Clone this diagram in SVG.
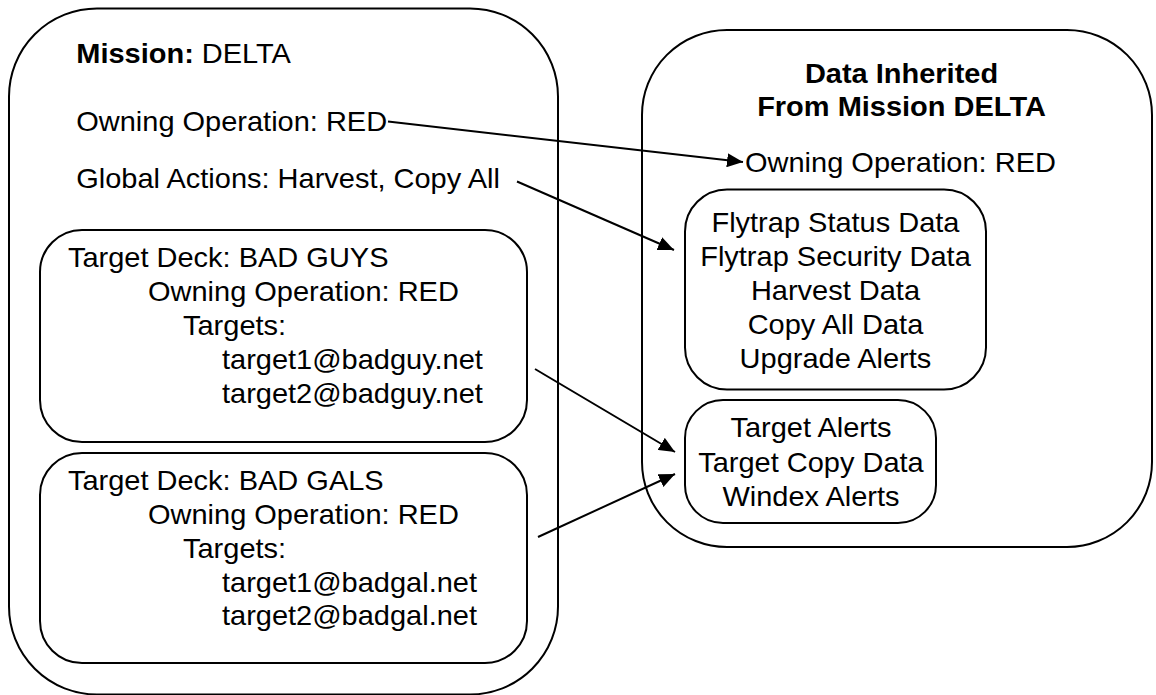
<svg xmlns="http://www.w3.org/2000/svg" width="1156" height="695" viewBox="0 0 1156 695">
  <style>
    .box { fill: none; stroke: #000; stroke-width: 2; }
    .lbl { font-family: "Liberation Sans", Arial, sans-serif; font-size: 27px; fill: #000; transform: scale(1.074, 1); }
    .b { font-weight: bold; }
    .mid { text-anchor: middle; }
    .link { fill: none; stroke: #000; stroke-width: 2; }
  </style>
  <defs>
    <marker id="arrow" markerUnits="userSpaceOnUse" markerWidth="17" markerHeight="14" refX="16" refY="7" orient="auto">
      <path d="M0,0 L16,7 L0,14 Z" fill="#000"/>
    </marker>
  </defs>
  <rect x="0" y="0" width="1156" height="695" fill="#fff"/>

  <!-- Mission DELTA container -->
  <g id="mission">
    <rect class="box" x="9" y="8.5" width="549" height="686" rx="88" ry="88"/>
    <text class="lbl" x="71" y="63"><tspan class="b">Mission:</tspan> DELTA</text>
    <text class="lbl" x="71" y="131">Owning Operation: RED</text>
    <text class="lbl" x="71" y="188">Global Actions: Harvest, Copy All</text>
  </g>

  <!-- Target deck: BAD GUYS -->
  <g id="deck-bad-guys">
    <rect class="box" x="40" y="230" width="487" height="212" rx="42" ry="42"/>
    <text class="lbl" x="63.3" y="267">Target Deck: BAD GUYS</text>
    <text class="lbl" x="137.8" y="301">Owning Operation: RED</text>
    <text class="lbl" x="170.4" y="335">Targets:</text>
    <text class="lbl" x="206.7" y="369">target1@badguy.net</text>
    <text class="lbl" x="206.7" y="403">target2@badguy.net</text>
  </g>

  <!-- Target deck: BAD GALS -->
  <g id="deck-bad-gals">
    <rect class="box" x="40" y="453" width="487" height="210" rx="42" ry="42"/>
    <text class="lbl" x="63.3" y="490">Target Deck: BAD GALS</text>
    <text class="lbl" x="137.8" y="524">Owning Operation: RED</text>
    <text class="lbl" x="170.4" y="558">Targets:</text>
    <text class="lbl" x="206.7" y="592">target1@badgal.net</text>
    <text class="lbl" x="206.7" y="625">target2@badgal.net</text>
  </g>

  <!-- Inherited data container -->
  <g id="inherited">
    <rect class="box" x="642" y="30" width="510" height="517" rx="85" ry="85"/>
    <text class="lbl b mid" x="839.4" y="83">Data Inherited</text>
    <text class="lbl b mid" x="839.4" y="116">From Mission DELTA</text>
    <text class="lbl" x="693.7" y="172">Owning Operation: RED</text>
  </g>

  <!-- Mission-level data -->
  <g id="mission-data">
    <rect class="box" x="685" y="189.5" width="301" height="200" rx="42" ry="42"/>
    <text class="lbl mid" x="777.9" y="232">Flytrap Status Data</text>
    <text class="lbl mid" x="777.9" y="266">Flytrap Security Data</text>
    <text class="lbl mid" x="777.9" y="300">Harvest Data</text>
    <text class="lbl mid" x="777.9" y="334">Copy All Data</text>
    <text class="lbl mid" x="777.9" y="368">Upgrade Alerts</text>
  </g>

  <!-- Target-level data -->
  <g id="target-data">
    <rect class="box" x="685" y="400" width="251" height="123" rx="38" ry="38"/>
    <text class="lbl mid" x="755.1" y="437">Target Alerts</text>
    <text class="lbl mid" x="755.1" y="472">Target Copy Data</text>
    <text class="lbl mid" x="755.1" y="506">Windex Alerts</text>
  </g>

  <!-- Connectors -->
  <g id="connectors">
    <line class="link" x1="388" y1="121.5" x2="743" y2="162" marker-end="url(#arrow)"/>
    <line class="link" x1="517" y1="181.5" x2="674" y2="250" marker-end="url(#arrow)"/>
    <line class="link" x1="535" y1="369" x2="675" y2="452" marker-end="url(#arrow)"/>
    <line class="link" x1="538" y1="537" x2="675" y2="474" marker-end="url(#arrow)"/>
  </g>
</svg>
